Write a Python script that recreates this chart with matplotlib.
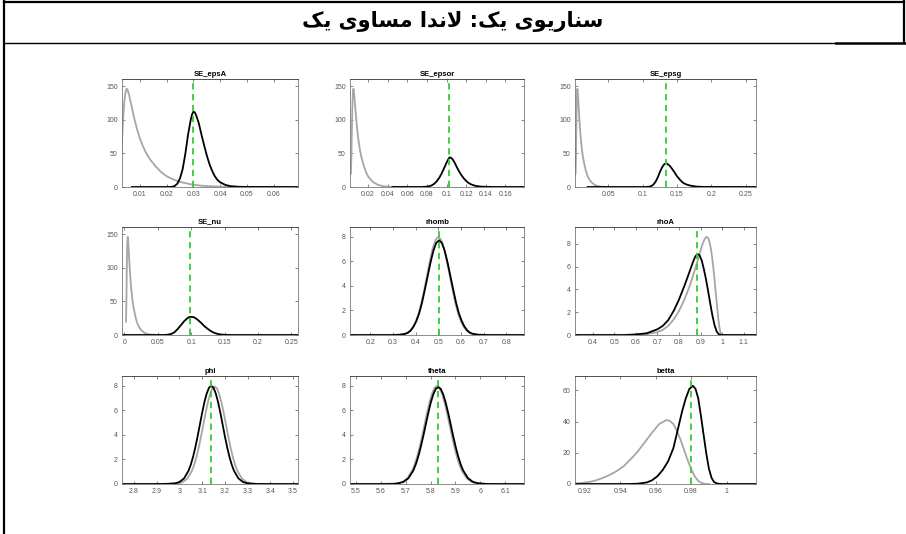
import matplotlib
matplotlib.use("Agg")
import matplotlib.pyplot as plt
from matplotlib.ticker import FormatStrFormatter

# Persian header text (logical order)
header = "سناریوی یک: لاندا مساوی یک"

names = ["SE_epsA", "SE_epsor", "SE_epsg", "SE_nu", "rhomb", "rhoA", "phi", "theta", "betta"]
modes = [0.0299, 0.103, 0.134, 0.099, 0.503, 0.884, 3.141, 5.831, 0.980]
xlims = [(0.0033, 0.0691), (0.0016, 0.179), (0.0016, 0.265), (-0.0035, 0.26),
         (0.11, 0.878), (0.318, 1.157), (2.747, 3.522), (5.476, 6.176), (0.9145, 1.0166)]
xticks = [[0.01, 0.02, 0.03, 0.04, 0.05, 0.06],
          [0.02, 0.04, 0.06, 0.08, 0.1, 0.12, 0.14, 0.16],
          [0.05, 0.1, 0.15, 0.2, 0.25],
          [0, 0.05, 0.1, 0.15, 0.2, 0.25],
          [0.2, 0.3, 0.4, 0.5, 0.6, 0.7, 0.8],
          [0.4, 0.5, 0.6, 0.7, 0.8, 0.9, 1, 1.1],
          [2.8, 2.9, 3, 3.1, 3.2, 3.3, 3.4, 3.5],
          [5.5, 5.6, 5.7, 5.8, 5.9, 6, 6.1],
          [0.92, 0.94, 0.96, 0.98, 1]]
yticks = [[0, 50, 100, 150]] * 4 + [[0, 2, 4, 6, 8]] * 4 + [[0, 20, 40, 60]]

# prior of the four shock std devs (grey)
se_prior_x = [0.0025, 0.00275, 0.003, 0.00325, 0.0035, 0.00375, 0.004, 0.00425, 0.0045, 0.00475,
              0.005, 0.00525, 0.0055, 0.006, 0.0065, 0.007, 0.0075, 0.008, 0.009, 0.010, 0.011,
              0.012, 0.013, 0.014, 0.016, 0.018, 0.020, 0.022, 0.025, 0.030, 0.035, 0.040, 0.050, 0.060]
se_prior_y = [20, 32, 45, 64, 85, 103, 118, 130, 138, 143,
              146, 145.5, 143, 136, 127, 118, 109, 100, 85, 72, 62,
              53, 46, 40, 30, 22, 16, 12, 7.5, 3.2, 1.3, 0.5, 0.1, 0]

# posteriors (black)
epsA_x = [0.007, 0.021, 0.022, 0.023, 0.024, 0.025, 0.026, 0.027, 0.028, 0.029, 0.0295, 0.03,
          0.0305, 0.031, 0.032, 0.033, 0.034, 0.035, 0.036, 0.037, 0.038, 0.039, 0.04, 0.042,
          0.044, 0.047, 0.05, 0.069]
epsA_y = [0, 0, 0.3, 1.5, 5, 13, 27, 50, 78, 100, 108, 112,
          111, 107, 95, 78, 62, 47, 34, 24, 16, 10.5, 7, 3,
          1.2, 0.3, 0.05, 0]
epsor_x = [0.045, 0.075, 0.08, 0.0825, 0.085, 0.0875, 0.09, 0.0925, 0.095, 0.0975, 0.1, 0.1015,
           0.103, 0.1045, 0.106, 0.108, 0.11, 0.1125, 0.115, 0.1175, 0.12, 0.1225, 0.125, 0.1275,
           0.13, 0.135, 0.14, 0.15, 0.179]
epsor_y = [0, 0, 0.5, 1.2, 2.5, 4.8, 8.5, 13.5, 20, 28, 36, 40.5,
           44, 43.5, 41.5, 37, 31, 24, 18, 13, 9, 6, 4, 2.6,
           1.5, 0.6, 0.25, 0, 0]
epsg_x = [0.02, 0.105, 0.11, 0.1125, 0.115, 0.1175, 0.12, 0.1225, 0.125, 0.1275, 0.13, 0.132,
          0.134, 0.136, 0.138, 0.14, 0.1425, 0.145, 0.1475, 0.15, 0.1525, 0.155, 0.1575, 0.16,
          0.165, 0.17, 0.175, 0.18, 0.19, 0.265]
epsg_y = [0, 0, 0.5, 1.4, 3, 6, 10, 15.5, 22, 27.5, 32, 34.3,
          35, 34.4, 32.8, 31, 27.5, 24, 20, 16, 13, 10, 7.5, 5.5,
          3.3, 2, 1.1, 0.5, 0.1, 0]
nu_x = [-0.0035, 0.06, 0.065, 0.07, 0.075, 0.08, 0.085, 0.09, 0.095, 0.0975, 0.1, 0.1025,
        0.105, 0.11, 0.115, 0.12, 0.125, 0.13, 0.135, 0.14, 0.145, 0.15, 0.16, 0.26]
nu_y = [0, 0, 0.5, 1.5, 4, 9, 15, 21, 25.5, 26.7, 27, 26.7,
        26, 22.5, 18, 13, 9, 5.5, 3, 1.5, 0.7, 0.3, 0, 0]

rhomb_prior_x = [0.3, 0.325, 0.3375, 0.35, 0.3625, 0.375, 0.3875, 0.4, 0.4125, 0.425, 0.4375, 0.45,
                 0.4625, 0.475, 0.4875, 0.5, 0.5125, 0.525, 0.5375, 0.55, 0.5625, 0.575, 0.5875,
                 0.6, 0.6125, 0.625, 0.6375, 0.65, 0.675, 0.7]
rhomb_prior_y = [0, 0.017, 0.04, 0.09, 0.18, 0.35, 0.64, 1.08, 1.73, 2.59, 3.67, 4.84,
                 6.0, 7.04, 7.73, 7.98, 7.73, 7.04, 6.0, 4.84, 3.67, 2.59, 1.73,
                 1.08, 0.64, 0.35, 0.18, 0.09, 0.017, 0]
rhomb_x = [0.11, 0.3, 0.328, 0.353, 0.3655, 0.378, 0.3905, 0.403, 0.4155, 0.428, 0.4405, 0.453,
           0.4655, 0.478, 0.4905, 0.503, 0.5155, 0.528, 0.5405, 0.553, 0.5655, 0.578, 0.5905,
           0.603, 0.6155, 0.628, 0.6405, 0.653, 0.678, 0.72, 0.878]
rhomb_y = [0, 0, 0.02, 0.09, 0.18, 0.36, 0.68, 1.14, 1.77, 2.64, 3.7, 4.8,
           5.9, 6.84, 7.48, 7.7, 7.48, 6.84, 5.9, 4.8, 3.7, 2.64, 1.77,
           1.14, 0.68, 0.36, 0.18, 0.09, 0.02, 0, 0]

rhoA_prior_x = [0.55, 0.6, 0.65, 0.7, 0.725, 0.75, 0.775, 0.8, 0.825, 0.85, 0.875, 0.89, 0.9, 0.91,
                0.92, 0.928, 0.935, 0.94, 0.945, 0.95, 0.955, 0.96, 0.965, 0.97, 0.975, 0.98,
                0.985, 0.99, 0.995, 1.0]
rhoA_prior_y = [0, 0.02, 0.07, 0.25, 0.45, 0.8, 1.35, 2.1, 3.1, 4.3, 5.8, 6.7, 7.4, 8.0,
                8.45, 8.6, 8.5, 8.25, 7.85, 7.3, 6.6, 5.75, 4.8, 3.8, 2.8, 1.85,
                1.0, 0.4, 0.08, 0]
rhoA_x = [0.318, 0.55, 0.6, 0.65, 0.7, 0.725, 0.75, 0.775, 0.8, 0.825, 0.85, 0.865, 0.875, 0.885,
          0.895, 0.905, 0.915, 0.925, 0.935, 0.945, 0.955, 0.965, 0.975, 0.985, 0.995, 1.157]
rhoA_y = [0, 0, 0.05, 0.15, 0.5, 0.8, 1.3, 2.1, 3.1, 4.3, 5.6, 6.4, 6.85, 7.1,
          7.0, 6.55, 5.8, 4.9, 3.85, 2.75, 1.7, 0.85, 0.3, 0.06, 0, 0]

phi_prior_x = [2.9, 2.995, 3.015, 3.035, 3.055, 3.065, 3.075, 3.085, 3.095, 3.105, 3.115, 3.125,
               3.135, 3.145, 3.155, 3.165, 3.175, 3.185, 3.195, 3.205, 3.215, 3.225, 3.235,
               3.245, 3.255, 3.275, 3.295, 3.315, 3.355, 3.4]
phi_prior_y = [0, 0.05, 0.16, 0.45, 1.07, 1.57, 2.2, 2.98, 3.87, 4.82, 5.78, 6.64,
               7.33, 7.8, 7.95, 7.8, 7.33, 6.64, 5.78, 4.82, 3.87, 2.98, 2.2,
               1.57, 1.07, 0.45, 0.16, 0.05, 0, 0]
phi_x = [2.747, 2.94, 2.98, 3.0, 3.02, 3.04, 3.05, 3.06, 3.07, 3.08, 3.09, 3.1, 3.11, 3.12, 3.13,
         3.14, 3.15, 3.16, 3.17, 3.18, 3.19, 3.2, 3.21, 3.22, 3.23, 3.24, 3.26, 3.28, 3.3, 3.34, 3.522]
phi_y = [0, 0, 0.05, 0.16, 0.45, 1.08, 1.58, 2.22, 3.0, 3.89, 4.85, 5.81, 6.68, 7.37, 7.84,
         8.0, 7.84, 7.37, 6.68, 5.81, 4.85, 3.89, 3.0, 2.22, 1.58, 1.08, 0.45, 0.16, 0.05, 0, 0]

theta_prior_x = [5.6, 5.666, 5.686, 5.706, 5.726, 5.736, 5.746, 5.756, 5.766, 5.776, 5.786, 5.796,
                 5.806, 5.816, 5.826, 5.836, 5.846, 5.856, 5.866, 5.876, 5.886, 5.896, 5.906,
                 5.916, 5.926, 5.946, 5.966, 5.986, 6.026, 6.05]
theta_prior_y = [0, 0.05, 0.16, 0.45, 1.08, 1.58, 2.22, 3.0, 3.89, 4.85, 5.81, 6.68,
                 7.37, 7.84, 8.0, 7.84, 7.37, 6.68, 5.81, 4.85, 3.89, 3.0, 2.22,
                 1.58, 1.08, 0.45, 0.16, 0.05, 0, 0]
theta_x = [5.476, 5.65, 5.671, 5.691, 5.711, 5.731, 5.741, 5.751, 5.761, 5.771, 5.781, 5.791,
           5.801, 5.811, 5.821, 5.831, 5.841, 5.851, 5.861, 5.871, 5.881, 5.891, 5.901, 5.911,
           5.921, 5.931, 5.951, 5.971, 5.991, 6.03, 6.176]
theta_y = [0, 0, 0.06, 0.17, 0.47, 1.11, 1.62, 2.26, 3.04, 3.92, 4.86, 5.79,
           6.63, 7.3, 7.75, 7.9, 7.75, 7.3, 6.63, 5.79, 4.86, 3.92, 3.04, 2.26,
           1.62, 1.11, 0.47, 0.17, 0.06, 0, 0]

betta_prior_x = [0.9145, 0.918, 0.922, 0.926, 0.93, 0.934, 0.938, 0.942, 0.946, 0.95, 0.954,
                 0.958, 0.962, 0.966, 0.968, 0.97, 0.972, 0.974, 0.976, 0.978, 0.98, 0.982,
                 0.984, 0.986, 0.988, 0.99]
betta_prior_y = [0.3, 0.6, 1.2, 2.2, 3.8, 5.8, 8.3, 11.5, 16, 21, 27,
                 33, 38.5, 41, 40.5, 38.5, 34, 28.5, 22, 15.5, 9.5, 5,
                 2, 0.6, 0, 0]
betta_x = [0.9145, 0.945, 0.95, 0.955, 0.958, 0.961, 0.964, 0.967, 0.97, 0.9725, 0.975, 0.977,
           0.979, 0.981, 0.9825, 0.984, 0.9855, 0.987, 0.9885, 0.99, 0.9915, 0.993, 0.995,
           0.997, 1.0166]
betta_y = [0, 0, 0.2, 1.0, 2.4, 5, 9, 14.5, 23, 35, 47, 55,
           61, 63, 61, 55, 44, 32, 20, 10, 4, 1.2, 0.2,
           0, 0]

priors = [(se_prior_x, se_prior_y)] * 4 + [(rhomb_prior_x, rhomb_prior_y), (rhoA_prior_x, rhoA_prior_y),
                                           (phi_prior_x, phi_prior_y), (theta_prior_x, theta_prior_y),
                                           (betta_prior_x, betta_prior_y)]
posts = [(epsA_x, epsA_y), (epsor_x, epsor_y), (epsg_x, epsg_y), (nu_x, nu_y), (rhomb_x, rhomb_y),
         (rhoA_x, rhoA_y), (phi_x, phi_y), (theta_x, theta_y), (betta_x, betta_y)]


def shape_persian(text):
    # tiny contextual shaper for the letters used here, returns visual (LTR) order
    forms = {'ا': ('\uFE8D', '\uFE8E'), 'د': ('\uFEA9', '\uFEAA'), 'ر': ('\uFEAD', '\uFEAE'),
             'و': ('\uFEED', '\uFEEE'),
             'س': ('\uFEB1', '\uFEB2', '\uFEB3', '\uFEB4'), 'ن': ('\uFEE5', '\uFEE6', '\uFEE7', '\uFEE8'),
             'م': ('\uFEE1', '\uFEE2', '\uFEE3', '\uFEE4'), 'ل': ('\uFEDD', '\uFEDE', '\uFEDF', '\uFEE0'),
             'ی': ('\uFBFC', '\uFBFD', '\uFBFE', '\uFBFF'), 'ک': ('\uFB8E', '\uFB8F', '\uFB90', '\uFB91')}
    text = text.replace('لا', '\u0001')
    out = []
    for i, ch in enumerate(text):
        prev = text[i - 1] if i > 0 else ' '
        nxt = text[i + 1] if i + 1 < len(text) else ' '
        joins_prev = prev in forms and len(forms[prev]) == 4
        if ch == '\u0001':
            out.append('\uFEFC' if joins_prev else '\uFEFB')
            continue
        if ch not in forms:
            out.append(ch)
            continue
        f = forms[ch]
        joins_next = len(f) == 4 and (nxt in forms or nxt == '\u0001')
        if joins_prev and joins_next:
            out.append(f[3])
        elif joins_prev:
            out.append(f[1])
        elif joins_next:
            out.append(f[2])
        else:
            out.append(f[0])
    return ''.join(out)[::-1]


W, H = 906, 534
fig = plt.figure(figsize=(W / 100, H / 100), dpi=100)

# table frame around the figure
frame = fig.add_axes([0, 0, 1, 1])
frame.set_xlim(0, W)
frame.set_ylim(H, 0)
frame.axis('off')
frame.plot([4, 4], [1, H], color='black', lw=1.6)
frame.plot([4, 904], [1.5, 1.5], color='black', lw=1.6)
frame.plot([904, 904], [1, 43], color='black', lw=1.6)
frame.plot([4, 836], [43, 43], color='black', lw=1.0)
frame.plot([836, W], [42.5, 42.5], color='black', lw=1.8)
frame.text(453, 21, shape_persian(header), ha='center', va='center', fontsize=15,
           fontweight='bold', family=['DejaVu Sans'])

cols = [(122, 298), (350, 524), (575, 756)]
rows = [(79, 187), (227, 335), (376, 484)]

for i, name in enumerate(names):
    x0, x1 = cols[i % 3]
    y0, y1 = rows[i // 3]
    ax = fig.add_axes([x0 / W, 1 - y1 / H, (x1 - x0) / W, (y1 - y0) / H])
    px, py = priors[i]
    bx, by = posts[i]
    ax.plot(px, py, color='#a6a6a6', lw=1.3)
    ax.plot(bx, by, color='black', lw=1.3)
    top = 1.1 * max(max(py), max(by))
    ax.plot([modes[i], modes[i]], [0, top], color='#33cc33', lw=1.3, ls=(0, (3.5, 2.5)))
    ax.set_xlim(*xlims[i])
    ax.set_ylim(0, top)
    ax.set_xticks(xticks[i])
    ax.set_yticks(yticks[i])
    ax.xaxis.set_major_formatter(FormatStrFormatter('%g'))
    ax.tick_params(direction='in', length=2.5, width=0.5, labelsize=5, colors='#555555',
                   top=True, right=True, pad=3)
    for lbl in ax.get_xticklabels() + ax.get_yticklabels():
        lbl.set_family('Liberation Sans')
    for s in ax.spines.values():
        s.set_color('#777777')
        s.set_linewidth(0.6)
    ax.spines['top'].set_color('#333333')
    ax.set_title(name, fontsize=5.5, fontweight='bold', family='Liberation Sans', pad=2.5)

fig.savefig('out.png', dpi=100)
